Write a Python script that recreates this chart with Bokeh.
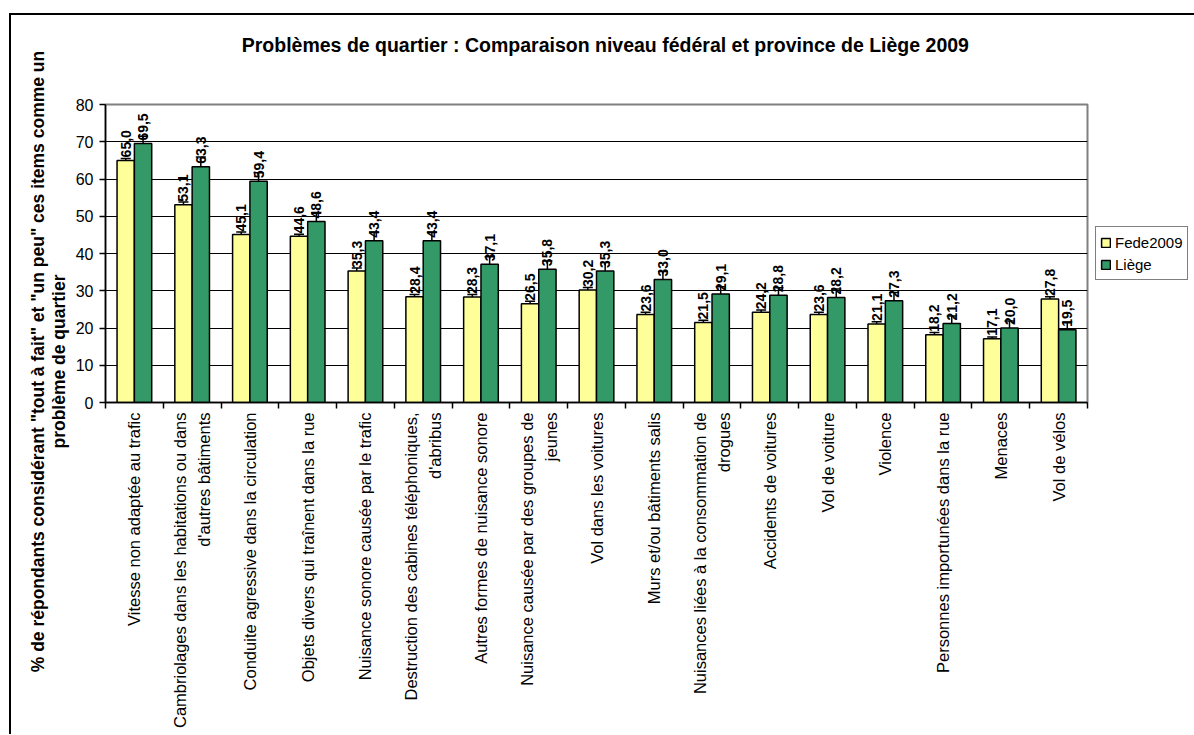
import math
from bokeh.plotting import figure
from bokeh.models import (ColumnDataSource, Range1d, FixedTicker, LabelSet,
                          Whisker, TeeHead, LinearAxis, Legend, LegendItem)
from bokeh.core.properties import value
from bokeh.transform import dodge
from bokeh.embed import file_html
from bokeh.resources import INLINE

# ---------------- data ----------------
categories = [
    "Vitesse non adaptée au trafic",
    "Cambriolages dans les habitations ou dans\nd'autres bâtiments",
    "Conduite agressive dans la circulation",
    "Objets divers qui traînent dans la rue",
    "Nuisance sonore causée par le trafic",
    "Destruction des cabines téléphoniques,\nd'abribus",
    "Autres formes de nuisance sonore",
    "Nuisance causée par des groupes de\njeunes",
    "Vol dans les voitures",
    "Murs et/ou bâtiments salis",
    "Nuisances liées à la consommation de\ndrogues",
    "Accidents de voitures",
    "Vol de voiture",
    "Violence",
    "Personnes importunées dans la rue",
    "Menaces",
    "Vol de vélos",
]
fede2009 = [65.0, 53.1, 45.1, 44.6, 35.3, 28.4, 28.3, 26.5, 30.2, 23.6, 21.5, 24.2, 23.6, 21.1, 18.2, 17.1, 27.8]
liege = [69.5, 63.3, 59.4, 48.6, 43.4, 43.4, 37.1, 35.8, 35.3, 33.0, 29.1, 28.8, 28.2, 27.3, 21.2, 20.0, 19.5]
fede_err = [0.5, 0.7, 0.7, 0.6, 0.8, 0.6, 0.7, 0.7, 0.7, 0.6, 0.6, 0.6, 0.6, 0.6, 0.6, 0.5, 0.6]
liege_err = [2.0, 2.6, 2.3, 2.4, 2.3, 2.3, 2.0, 2.2, 2.3, 2.2, 2.0, 2.0, 2.3, 2.2, 2.0, 1.9, 2.1]
y_ticks = [0, 10, 20, 30, 40, 50, 60, 70, 80]
series_names = ["Fede2009", "Liège"]
title_text = "Problèmes de quartier : Comparaison niveau fédéral et province de Liège 2009"
ylabel_text = ('% de répondants considérant "tout à fait" et "un peu" ces items comme un\n'
               'problème de quartier')

FONT = "Liberation Sans"
YELLOW = "#FFFF99"
GREEN = "#339966"

n = len(categories)
pos = [i + 0.5 for i in range(n)]
bounds = list(range(n + 1))

# layout anchors for the title texts (in axis units)
TITLE_X = n * 0.509
YLABEL_Y = 11.0


def fmt(v):
    return f"{v:.1f}".replace(".", ",")


src = ColumnDataSource(dict(
    pos=pos,
    fede=fede2009, liege=liege,
    fede_hi=[v + e for v, e in zip(fede2009, fede_err)],
    fede_lo=[v - e for v, e in zip(fede2009, fede_err)],
    liege_hi=[v + e for v, e in zip(liege, liege_err)],
    liege_lo=[v - e for v, e in zip(liege, liege_err)],
    fede_txt=[fmt(v) for v in fede2009],
    liege_txt=[fmt(v) for v in liege],
))

p = figure(frame_width=982, frame_height=298, output_backend="svg", toolbar_location=None,
           x_range=Range1d(0, n), y_range=Range1d(0, 80), x_axis_location=None,
           min_border_left=94, min_border_right=106, min_border_top=89, min_border_bottom=332)
p.styles = {"border-top": "2px solid black", "border-left": "2px solid black",
            "margin-top": "13px", "margin-left": "9px"}
p.background_fill_color = "white"
p.border_fill_color = "white"
p.outline_line_color = "#808080"
p.outline_line_width = 2

# bars
r_fede = p.vbar(x=dodge("pos", -0.15, range=p.x_range), top="fede", width=0.3, source=src,
                fill_color=YELLOW, line_color="black", line_width=1.5)
r_liege = p.vbar(x=dodge("pos", 0.15, range=p.x_range), top="liege", width=0.3, source=src,
                 fill_color=GREEN, line_color="black", line_width=1.5)

# error bars
for off, hi, lo in [(-0.15, "fede_hi", "fede_lo"), (0.15, "liege_hi", "liege_lo")]:
    w = Whisker(base=dodge("pos", off, range=p.x_range), upper=hi, lower=lo, source=src,
                line_color="black", line_width=1.5,
                upper_head=TeeHead(size=10, line_color="black", line_width=1.5),
                lower_head=TeeHead(size=10, line_color="black", line_width=1.5))
    p.add_layout(w)

# value labels
for off, col, txt in [(-0.15, "fede", "fede_txt"), (0.15, "liege", "liege_txt")]:
    ls = LabelSet(x=dodge("pos", off, range=p.x_range), y=col, text=txt, source=src,
                  y_offset=3, angle=math.pi / 2, text_align="left", text_baseline="middle",
                  text_font=value(FONT), text_font_size="14px", text_font_style="bold",
                  text_color="black")
    p.add_layout(ls)

# y axis
p.xgrid.grid_line_color = None
p.ygrid.grid_line_color = "black"
p.ygrid.grid_line_width = 1
p.yaxis.ticker = FixedTicker(ticks=y_ticks)
p.ygrid.ticker = FixedTicker(ticks=y_ticks)
p.yaxis.major_tick_out = 6
p.yaxis.major_tick_in = 0
p.yaxis.minor_tick_line_color = None
p.yaxis.major_label_standoff = 6
p.yaxis.major_label_text_font = FONT
p.yaxis.major_label_text_font_size = "16px"
p.yaxis.major_label_text_color = "black"
p.yaxis.axis_line_color = "black"
p.yaxis.axis_line_width = 1.5
p.yaxis.major_tick_line_width = 1.5

# x axis: category names at centres (major), tick marks between categories (minor)
xaxis = LinearAxis(ticker=FixedTicker(ticks=pos, minor_ticks=bounds),
                   major_label_overrides={x: c for x, c in zip(pos, categories)})
xaxis.axis_line_color = "black"
xaxis.axis_line_width = 1.5
xaxis.major_tick_line_color = None
xaxis.major_tick_out = 6
xaxis.major_tick_in = 0
xaxis.minor_tick_line_color = "black"
xaxis.minor_tick_line_width = 1.5
xaxis.minor_tick_out = 6
xaxis.minor_tick_in = 0
xaxis.major_label_standoff = 4
xaxis.major_label_orientation = math.pi / 2
xaxis.major_label_text_font = FONT
xaxis.major_label_text_font_size = "16.5px"
xaxis.major_label_text_color = "black"
xaxis.major_label_text_line_height = 1.35
p.add_layout(xaxis, "below")


def text_axis(side, ticks, labels, standoff, size, style, orientation, line_height=1.2):
    ax = LinearAxis(ticker=FixedTicker(ticks=ticks), major_label_overrides=labels)
    ax.axis_line_color = None
    ax.major_tick_line_color = None
    ax.minor_tick_line_color = None
    ax.major_tick_out = 0
    ax.major_tick_in = 0
    ax.major_label_standoff = standoff
    ax.major_label_orientation = orientation
    ax.major_label_text_font = FONT
    ax.major_label_text_font_size = size
    ax.major_label_text_font_style = style
    ax.major_label_text_color = "black"
    ax.major_label_text_line_height = line_height
    p.add_layout(ax, side)
    return ax


# chart title
text_axis("above", [TITLE_X], {TITLE_X: title_text}, 49, "19.5px", "bold", "horizontal")
# y axis title
text_axis("left", [YLABEL_Y], {YLABEL_Y: ylabel_text}, 3, "17.5px", "bold", "parallel", 1.05)

# legend
legend = Legend(items=[LegendItem(label=series_names[0], renderers=[r_fede]),
                       LegendItem(label=series_names[1], renderers=[r_liege])],
                location="left")
legend.border_line_color = "black"
legend.border_line_width = 1
legend.background_fill_color = "white"
legend.background_fill_alpha = 1
legend.padding = 4
legend.spacing = 0
legend.margin = 8
legend.glyph_width = 11
legend.glyph_height = 11
legend.label_height = 22
legend.label_standoff = 4
legend.label_text_font = FONT
legend.label_text_font_size = "15px"
legend.label_text_color = "black"
legend.label_text_baseline = "middle"
p.add_layout(legend, "right")

open("out.html", "w").write(file_html(p, INLINE))
